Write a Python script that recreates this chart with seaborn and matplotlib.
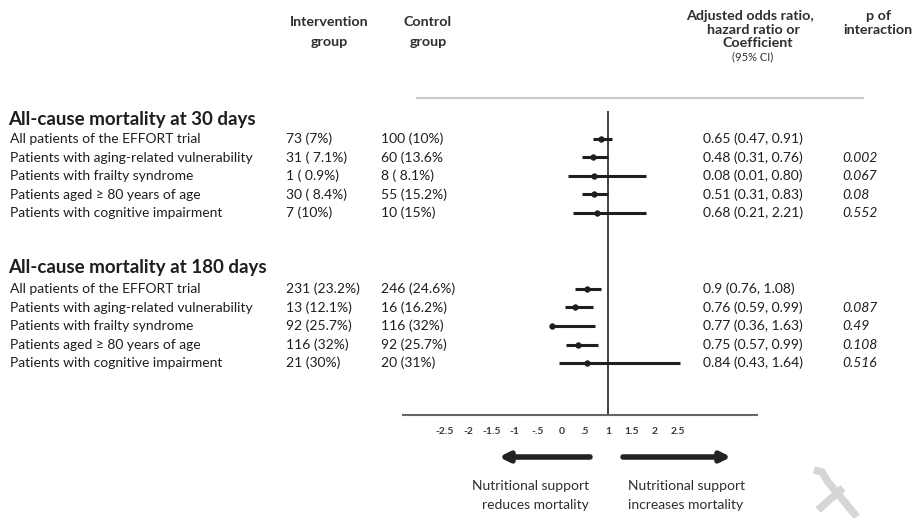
import matplotlib
matplotlib.use("Agg")
import matplotlib.pyplot as plt
from matplotlib.lines import Line2D
import seaborn as sns

sns.set_style("white")
plt.rcParams["font.family"] = ["Lato", "DejaVu Sans"]

# subgroup rows (same for both outcomes)
subgroups = ["All patients of the EFFORT trial",
             "Patients with aging-related vulnerability",
             "Patients with frailty syndrome",
             "Patients aged \u2265 80 years of age",
             "Patients with cognitive impairment"]
outcomes = ["All-cause mortality at 30 days", "All-cause mortality at 180 days"]

interv = ["73 (7%)", "31 ( 7.1%)", "1 ( 0.9%)", "30 ( 8.4%)", "7 (10%)",
          "231 (23.2%)", "13 (12.1%)", "92 (25.7%)", "116 (32%)", "21 (30%)"]
control = ["100 (10%)", "60 (13.6%", "8 ( 8.1%)", "55 (15.2%)", "10 (15%)",
           "246 (24.6%)", "16 (16.2%)", "116 (32%)", "92 (25.7%)", "20 (31%)"]
effect_txt = ["0.65 (0.47, 0.91)", "0.48 (0.31, 0.76)", "0.08 (0.01, 0.80)",
              "0.51 (0.31, 0.83)", "0.68 (0.21, 2.21)",
              "0.9 (0.76, 1.08)", "0.76 (0.59, 0.99)", "0.77 (0.36, 1.63)",
              "0.75 (0.57, 0.99)", "0.84 (0.43, 1.64)"]
p_inter = ["", "0.002", "0.067", "0.08", "0.552",
           "", "0.087", "0.49", "0.108", "0.516"]

# marks as drawn in the plot
est = [0.85, 0.67, 0.69, 0.69, 0.77, 0.54, 0.30, -0.21, 0.36, 0.56]
ci_lo = [0.67, 0.44, 0.15, 0.44, 0.24, 0.29, 0.08, -0.21, 0.10, -0.04]
ci_hi = [1.08, 1.00, 1.81, 1.00, 1.81, 0.86, 0.67, 0.73, 0.78, 2.54]

xticks = [-2.5, -2, -1.5, -1, -0.5, 0, 0.5, 1, 1.5, 2, 2.5]
xtick_labels = ["-2.5", "-2", "-1.5", "-1", "-.5", "0", ".5", "1", "1.5", "2", "2.5"]

W, H = 915, 518
ROW0, STEP, GAP = 139, 18.5, 3.11
pos = [i + (GAP if i >= 5 else 0) for i in range(10)]

def fy(px):
    return 1 - px / H

def fx(px):
    return px / W

fig = plt.figure(figsize=(W / 100, H / 100), dpi=100)
ax = fig.add_axes([fx(403), fy(415), fx(757) - fx(403), (415 - 111) / H])

dark = "#1e1e1e"
ax.hlines(pos, ci_lo, ci_hi, color=dark, lw=2.2, zorder=2)
sns.scatterplot(x=est, y=pos, ax=ax, color=dark, s=16, edgecolor=dark,
                linewidth=0.5, zorder=3, legend=False)
ax.axvline(1, color="#333333", lw=1.3, zorder=1)

ax.set_xlim(-3.39, 4.19)
ax.set_ylim(14.92, -1.51)
ax.set_yticks([])
ax.set_xticks(xticks)
ax.set_xticklabels(xtick_labels, fontsize=7.5, fontweight="bold", color="#3a3a3a")
ax.tick_params(axis="x", direction="out", length=4, width=1, color="#555555", pad=5)
for s in ["top", "left", "right"]:
    ax.spines[s].set_visible(False)
ax.spines["bottom"].set_color("#666666")
ax.spines["bottom"].set_linewidth(1.5)
ax.patch.set_alpha(0)

# header
hdr = dict(fontsize=10.3, fontweight="bold", color="#2e2e2e", ha="center", va="center")
fig.text(fx(329), fy(22), "Intervention", **hdr)
fig.text(fx(329), fy(42), "group", **hdr)
fig.text(fx(428), fy(22), "Control", **hdr)
fig.text(fx(428), fy(42), "group", **hdr)
fig.text(fx(750), fy(16), "Adjusted odds ratio,", **hdr)
fig.text(fx(753), fy(30), "hazard ratio or", **hdr)
fig.text(fx(758), fy(43), "Coefficient", **hdr)
fig.text(fx(753), fy(57), "(95% CI)", fontsize=8, color="#2e2e2e", ha="center", va="center")
fig.text(fx(878), fy(16), "p of", **hdr)
fig.text(fx(878), fy(30), "interaction", **hdr)

fig.add_artist(Line2D([fx(417), fx(863)], [fy(98), fy(98)], color="#c8c8c8", lw=1.5))

# outcome titles
fig.text(fx(8), fy(119), outcomes[0], fontsize=13.5, fontweight="bold", color=dark, va="center")
fig.text(fx(8), fy(267), outcomes[1], fontsize=13.5, fontweight="bold", color=dark, va="center")

row = dict(fontsize=10, color=dark, va="center")
for i in range(10):
    y = fy(ROW0 + pos[i] * STEP)
    fig.text(fx(10), y, subgroups[i % 5], **row)
    fig.text(fx(286), y, interv[i], **row)
    fig.text(fx(381), y, control[i], **row)
    fig.text(fx(703), y, effect_txt[i], **row)
    fig.text(fx(842), y, p_inter[i], style="italic", **row)

# arrows
arr = dict(arrowstyle="-|>", lw=4, color="#222222", mutation_scale=14, shrinkA=0, shrinkB=0)
ax.annotate("", xy=(499, H - 457), xytext=(590, H - 457),
            xycoords="figure pixels", textcoords="figure pixels", arrowprops=arr)
ax.annotate("", xy=(731, H - 457), xytext=(623, H - 457),
            xycoords="figure pixels", textcoords="figure pixels", arrowprops=arr)

note = dict(fontsize=10, color="#2e2e2e", va="center")
fig.text(fx(589), fy(486), "Nutritional support", ha="right", **note)
fig.text(fx(589), fy(505), "reduces mortality", ha="right", **note)
fig.text(fx(628), fy(486), "Nutritional support", ha="left", **note)
fig.text(fx(628), fy(505), "increases mortality", ha="left", **note)

# faint watermark logo
wm = dict(color="#d6d6d6", lw=5.5, solid_capstyle="butt")
fig.add_artist(Line2D([fx(814), fx(822), fx(828), fx(857)],
                      [fy(470), fy(472), fy(482), fy(517)], **wm))
fig.add_artist(Line2D([fx(818), fx(843)], [fy(510), fy(488)], **wm))

fig.savefig("out.png", dpi=100)
